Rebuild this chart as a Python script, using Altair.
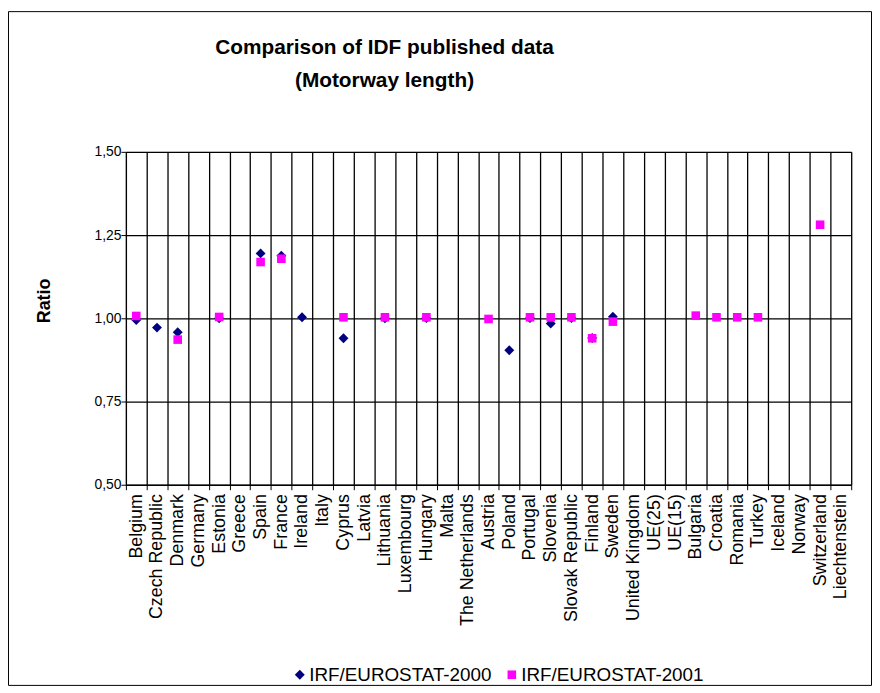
import altair as alt
import pandas as pd

countries = [
    "Belgium", "Czech Republic", "Denmark", "Germany", "Estonia", "Greece",
    "Spain", "France", "Ireland", "Italy", "Cyprus", "Latvia", "Lithuania",
    "Luxembourg", "Hungary", "Malta", "The Netherlands", "Austria", "Poland",
    "Portugal", "Slovenia", "Slovak Republic", "Finland", "Sweden",
    "United Kingdom", "UE(25)", "UE(15)", "Bulgaria", "Croatia", "Romania",
    "Turkey", "Iceland", "Norway", "Switzerland", "Liechtenstein",
]

irf_2000 = [
    0.995, 0.972, 0.958, None, 1.000, None,
    1.195, 1.188, 1.003, None, 0.940, None, 1.000,
    None, 1.001, None, None, None, 0.904,
    1.001, 0.984, 1.001, 0.941, 1.005,
    None, None, None, None, None, None,
    None, None, None, None, None,
]

irf_2001 = [
    1.007, None, 0.936, None, 1.004, None,
    1.169, 1.179, None, None, 1.003, None, 1.003,
    None, 1.003, None, None, 0.998, None,
    1.003, 1.003, 1.003, 0.940, 0.990,
    None, None, None, 1.008, 1.003, 1.003,
    1.003, None, None, 1.281, None,
]

title_lines = ["Comparison of IDF published data", "(Motorway length)"]
series_names = ["IRF/EUROSTAT-2000", "IRF/EUROSTAT-2001"]
series_colors = ["#000080", "#FF00FF"]
series_shapes = ["diamond", "square"]
series_sizes = [100, 75]

rows = []
for name, vals in zip(series_names, [irf_2000, irf_2001]):
    for c, v in zip(countries, vals):
        if v is not None:
            rows.append({"Country": c, "Series": name, "Ratio": v})
df = pd.DataFrame(rows)

FONT = "Liberation Sans"
W, H = 732, 336

legend = alt.Legend(
    title=None, orient="none", legendX=166, legendY=518,
    direction="horizontal", labelFontSize=19, labelFont=FONT,
    labelColor="black", symbolSize=55, columnPadding=10, labelOffset=0,
    labelLimit=400,
)

points = alt.Chart(df).mark_point(filled=True, opacity=1).encode(
    x=alt.X(
        "Country:N", sort=countries,
        scale=alt.Scale(type="band", domain=countries, paddingInner=0, paddingOuter=0),
        axis=alt.Axis(
            title=None, labelAngle=270, labelFontSize=18, labelFont=FONT,
            labelColor="black", tickBand="extent", grid=True, gridColor="black",
            gridWidth=1.3, gridOpacity=1, tickColor="black", tickSize=5,
            domainColor="black", labelPadding=4,
        ),
    ),
    y=alt.Y(
        "Ratio:Q",
        scale=alt.Scale(domain=[0.5, 1.5], nice=False, zero=False),
        axis=alt.Axis(
            values=[0.5, 0.75, 1.0, 1.25, 1.5],
            labelExpr="replace(format(datum.value, '.2f'), '.', ',')",
            title="Ratio", titleFontSize=18, titleFont=FONT, titleFontWeight="bold",
            titleAngle=270, titleX=-82, titleY=150, titleAlign="center",
            titleBaseline="middle", titleColor="black",
            gridColor="black", gridWidth=1.3, gridOpacity=1,
            tickColor="black", tickSize=5, domainColor="black",
            labelFontSize=14, labelFont=FONT, labelColor="black", labelPadding=0,
        ),
    ),
    color=alt.Color(
        "Series:N",
        scale=alt.Scale(domain=series_names, range=series_colors),
        legend=legend,
    ),
    shape=alt.Shape(
        "Series:N",
        scale=alt.Scale(domain=series_names, range=series_shapes),
        legend=legend,
    ),
    size=alt.Size(
        "Series:N",
        scale=alt.Scale(domain=series_names, range=series_sizes),
        legend=None,
    ),
)

TITLE_X = 261
title1 = alt.Chart(pd.DataFrame({"t": [title_lines[0]]})).mark_text(
    font=FONT, fontSize=21, fontWeight="bold", color="black",
    align="center", baseline="alphabetic",
).encode(text="t:N", x=alt.value(TITLE_X), y=alt.value(-99))
title2 = alt.Chart(pd.DataFrame({"t": [title_lines[1]]})).mark_text(
    font=FONT, fontSize=21, fontWeight="bold", color="black",
    align="center", baseline="alphabetic",
).encode(text="t:N", x=alt.value(TITLE_X), y=alt.value(-65))

border = alt.Chart(pd.DataFrame({"a": [0]})).mark_rect(
    fillOpacity=0, stroke="black", strokeWidth=1
).encode(
    x=alt.value(-118.5), x2=alt.value(752.5),
    y=alt.value(-141.5), y2=alt.value(538.5),
)

chart = alt.layer(points, title1, title2, border).properties(
    width=W, height=H,
    autosize=alt.AutoSizeParams(type="none"),
    padding={"left": 119, "top": 142, "right": 21, "bottom": 207},
).configure_view(
    fill="#C0C0C0", stroke="#808080", strokeWidth=1
).configure(background="white")

chart.save("out.html", embed_options={"renderer": "svg", "actions": False})
